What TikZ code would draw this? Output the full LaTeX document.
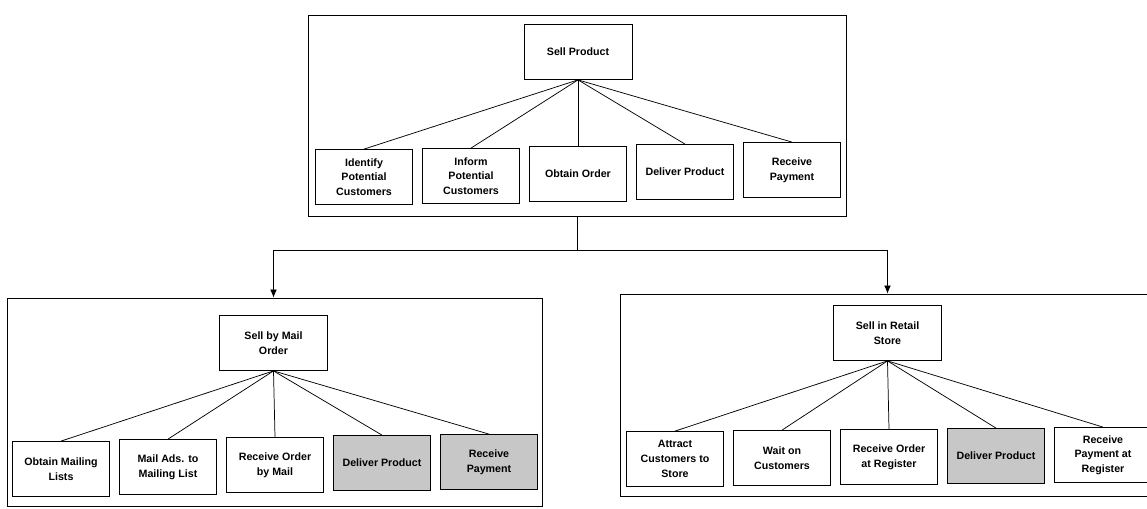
\documentclass[tikz,border=0pt]{standalone}
\usepackage{fontspec}
\setmainfont{Liberation Sans}
\usepackage{tikz}
\usetikzlibrary{arrows,arrows.meta}
\tikzset{
	frame/.style={draw, line width=0.6pt, inner sep=0pt}
}
\tikzstyle{task}=[draw, line width=0.6pt, inner sep=0pt, align=center, font=\bfseries\fontsize{8}{11}\selectfont, minimum width=97*0.75pt, minimum height=55*0.75pt]
\tikzstyle{parent}=[task, minimum width=108*0.75pt]
\tikzstyle{shared}=[fill=black!22]
\tikzstyle{link}=[line width=0.55pt]
\tikzstyle{down}=[link, -{Latex[length=6pt,width=5pt]}]

\begin{document}
\begin{tikzpicture}[x=0.75pt, y=-0.75pt]
	\useasboundingbox (0,0) rectangle (1147,508);
	\node[frame, minimum width=538*0.75pt, minimum height=201*0.75pt] (top) at (577,115.5) {};
	\node[frame, minimum width=535*0.75pt, minimum height=208*0.75pt] (mail) at (274.5,402) {};
	\node[frame, minimum width=540*0.75pt, minimum height=202*0.75pt] (retail) at (890,395) {};

	\node[parent] (sell) at (578,52) {Sell Product};
	\node[task] (ident) at (364,177) {Identify\\Potential\\Customers};
	\node[task] (inform) at (471,176) {Inform\\Potential\\Customers};
	\node[task] (obtain) at (578,174) {Obtain Order};
	\node[task] (deliver) at (685,172) {Deliver Product};
	\node[task] (receive) at (792,170) {Receive\\Payment};
	\foreach \c in {ident,inform,obtain,deliver,receive}
		\draw[link] (sell.south) -- (\c.north);

	\node[parent] (mailsell) at (273.5,343) {Sell by Mail\\Order};
	\node[task] (lists) at (61,469) {Obtain Mailing\\Lists};
	\node[task] (ads) at (168,467) {Mail Ads. to\\Mailing List};
	\node[task] (mailorder) at (275,465) {Receive Order\\by Mail};
	\node[task, shared] (maildeliver) at (382,463) {Deliver Product};
	\node[task, shared] (mailpay) at (489,462) {Receive\\Payment};
	\foreach \c in {lists,ads,mailorder,maildeliver,mailpay}
		\draw[link] (mailsell.south) -- (\c.north);

	\node[parent] (retailsell) at (887.5,333) {Sell in Retail\\Store};
	\node[task] (attract) at (675,459) {Attract\\Customers to\\Store};
	\node[task] (wait) at (782,458) {Wait on\\Customers};
	\node[task] (register) at (889,457) {Receive Order\\at Register};
	\node[task, shared] (retaildeliver) at (996,456) {Deliver Product};
	\node[task] (retailpay) at (1103,455) {Receive\\Payment at\\Register};
	\foreach \c in {attract,wait,register,retaildeliver,retailpay}
		\draw[link] (retailsell.south) -- (\c.north);

	\draw[link] (top.south) -- ++(0,34) coordinate (split);
	\draw[down] (split) -| (mailsell.north |- mail.north);
	\draw[down] (split) -| (retailsell.north |- retail.north);
\end{tikzpicture}
\end{document}
